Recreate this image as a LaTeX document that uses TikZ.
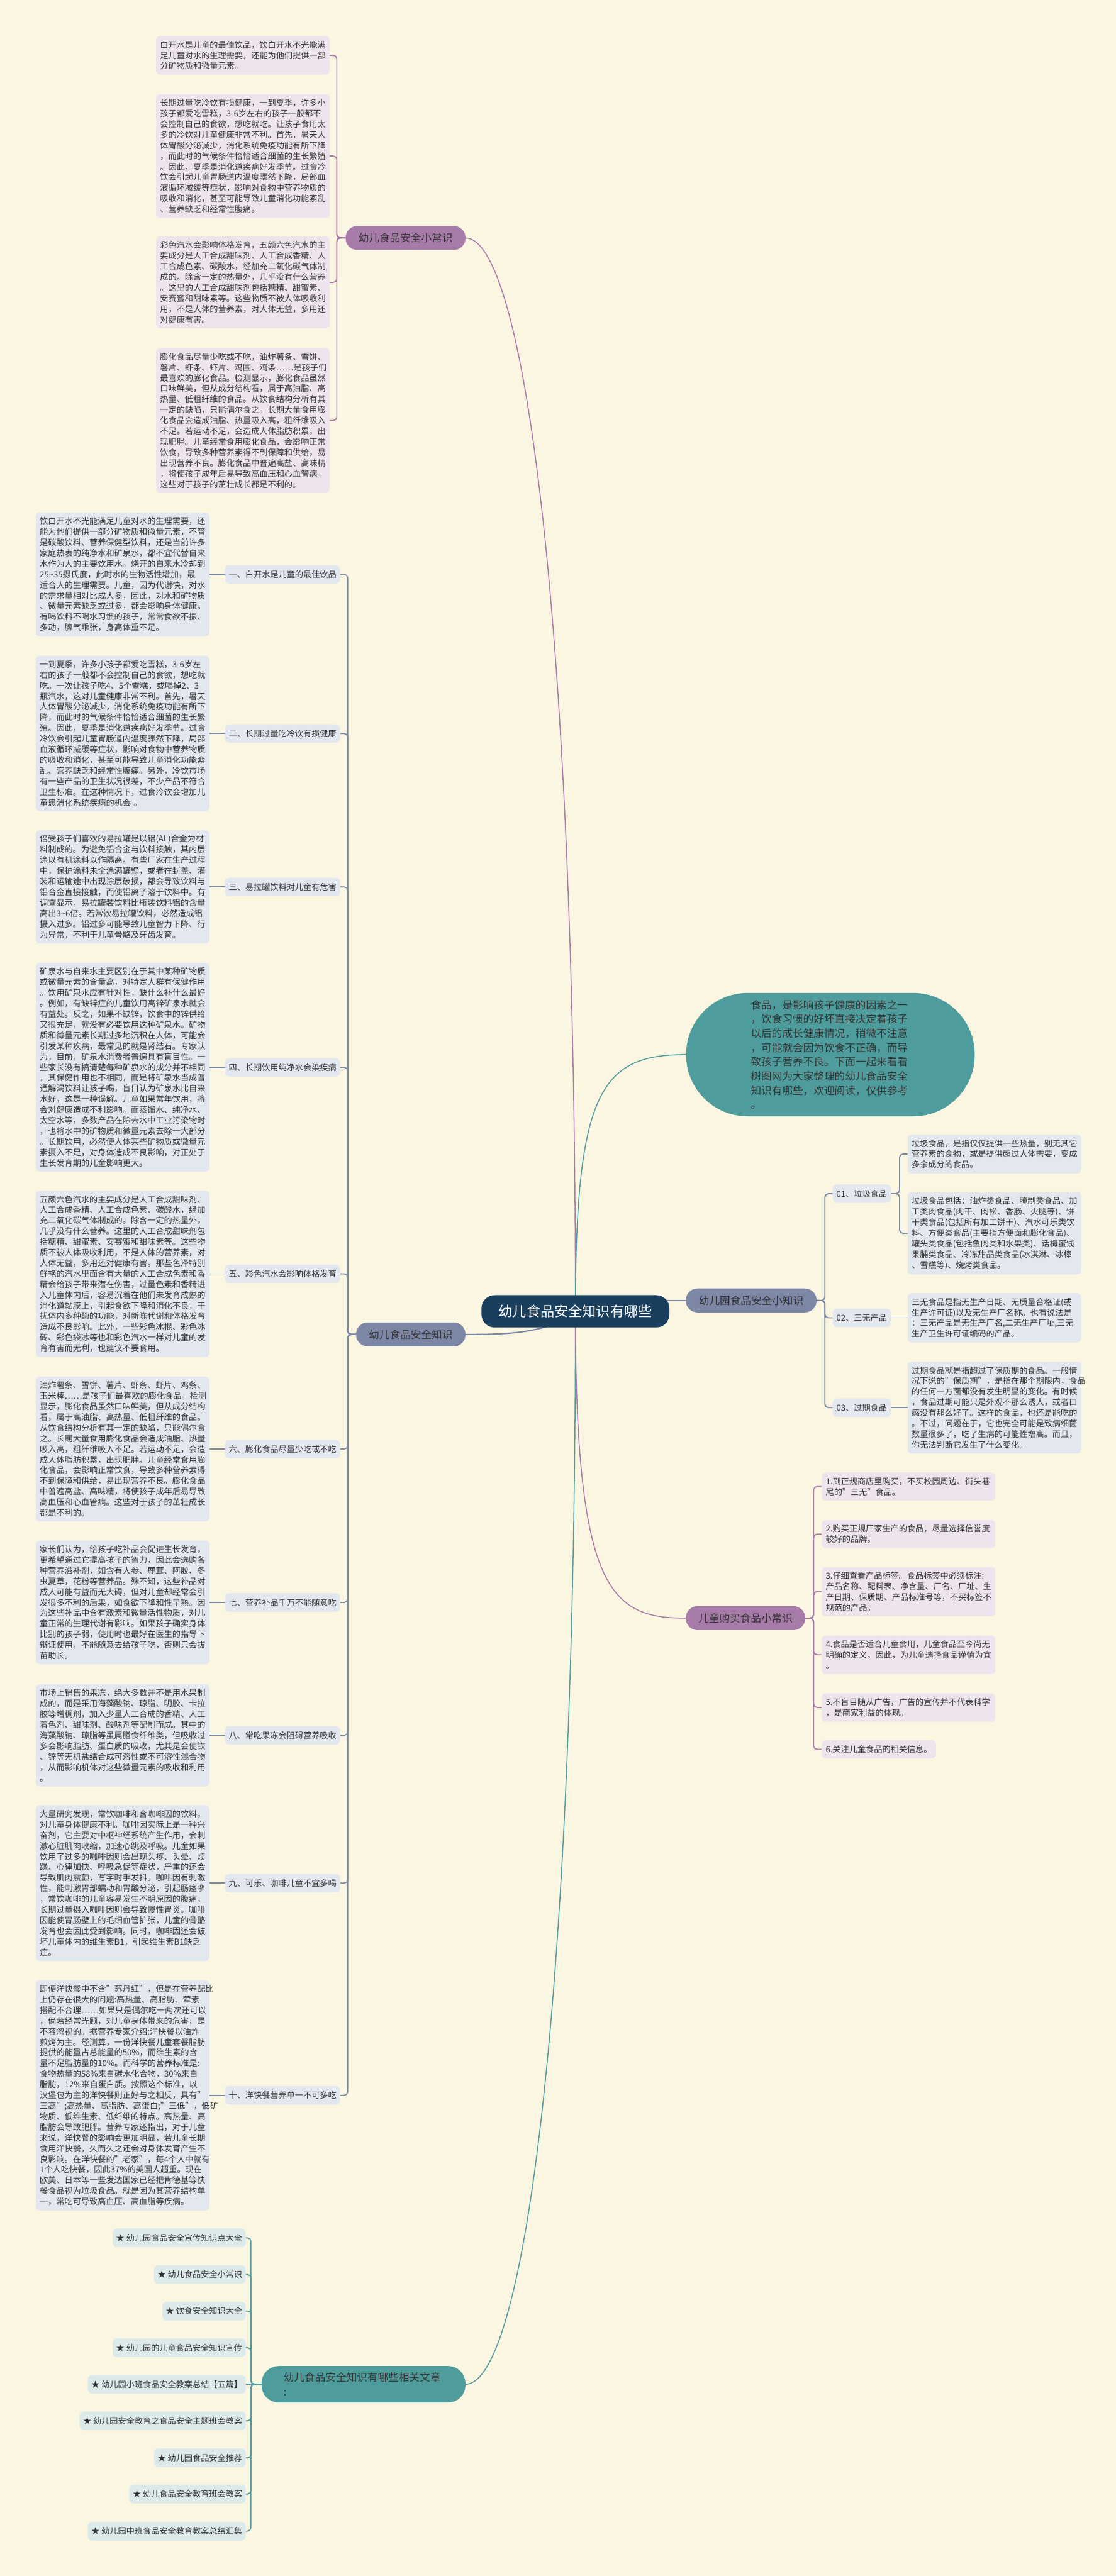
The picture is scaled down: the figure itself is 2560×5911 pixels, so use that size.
\documentclass[tikz,border=0pt]{standalone}
\usepackage{fontspec}
\setmainfont{Noto Sans CJK SC}
\pgfdeclarelayer{bglayer}
\pgfdeclarelayer{edgelayer}
\pgfsetlayers{bglayer,edgelayer,main}
\definecolor{bgc}{HTML}{FAF6E1}
\definecolor{txt}{HTML}{333333}
\definecolor{rootc}{HTML}{1A3F5E}
\definecolor{purp}{HTML}{A77BA8}
\definecolor{slate}{HTML}{7B87A5}
\definecolor{tealc}{HTML}{4E9C9B}
\definecolor{lavbox}{HTML}{EDE4EE}
\definecolor{greybox}{HTML}{E3E7EF}
\definecolor{tealbox}{HTML}{DCEBEA}
\hyphenpenalty=10000
\exhyphenpenalty=10000
\tikzset{
  tb/.style={font=\fontsize{19}{24.4}\selectfont, text=txt, rounded corners=9, inner xsep=9, inner ysep=11, align=left, text width=380},
  lb/.style={font=\fontsize{19}{24.4}\selectfont, text=txt, rounded corners=10, inner xsep=8.5, inner ysep=0, minimum height=42},
  rb/.style={font=\fontsize{19}{24.4}\selectfont, text=txt, rounded corners=10, inner xsep=8, inner ysep=0, minimum height=43, fill=tealbox, anchor=east},
  mb/.style={font=\fontsize{24}{30}\selectfont, text=txt, rounded corners=27, inner xsep=0, inner ysep=0, minimum height=55},
  rootbox/.style={font=\fontsize{32}{38}\selectfont, text=white, fill=rootc, rounded corners=30, inner sep=0, minimum width=431, minimum height=74},
  introbox/.style={font=\fontsize{24}{32.7}\selectfont, text=txt, fill=tealc, rounded corners=141, inner sep=0, minimum width=662, minimum height=283, text width=365, align=left},
  mline/.style={line width=2.2},
  sline/.style={line width=3, slate},
  subline/.style={line width=2.5, rounded corners=8},
}
\begin{document}
\begin{tikzpicture}[x=1pt,y=-1pt]
\begin{pgfonlayer}{bglayer}
\fill[bgc] (0,0) rectangle (2560,5911);
\end{pgfonlayer}
\useasboundingbox (0,0) rectangle (2560,5911);

% ---------- root and main branches ----------
\node[rootbox] (root) at (1320,3009) {幼儿食品安全知识有哪些};
\node[mb, fill=purp, minimum width=275, anchor=east] (A) at (1068,546) {幼儿食品安全小常识};
\node[mb, fill=slate, minimum width=251, anchor=east] (B) at (1068,3062) {幼儿食品安全知识};
\node[mb, fill=slate, minimum width=300, anchor=west] (C) at (1573,2984) {幼儿园食品安全小知识};
\node[mb, fill=purp, minimum width=274, anchor=west] (E) at (1573,3713) {儿童购买食品小常识};
\node[font=\fontsize{24}{33}\selectfont, text=txt, fill=tealc, rounded corners=40, text width=366, align=left, inner xsep=51, inner ysep=15, anchor=east] (D) at (1068,5471) {幼儿食品安全知识有哪些相关文章\\:};
\node[introbox] (I) at (1905,2420) {食品，是影响孩子健康的因素之一\\，饮食习惯的好坏直接决定着孩子\\以后的成长健康情况，稍微不注意\\，可能就会因为饮食不正确，而导\\致孩子营养不良。下面一起来看看\\树图网为大家整理的幼儿食品安全\\知识有哪些，欢迎阅读，仅供参考\\。};

% ---------- A: 幼儿食品安全小常识 ----------
\node[tb, fill=lavbox, anchor=west] (A1) at (358,127) {白开水是儿童的最佳饮品，饮白开水不光能满\\足儿童对水的生理需要，还能为他们提供一部\\分矿物质和微量元素。};
\node[tb, fill=lavbox, anchor=west] (A2) at (358,358) {长期过量吃冷饮有损健康，一到夏季，许多小\\孩子都爱吃雪糕，3-6岁左右的孩子一般都不\\会控制自己的食欲，想吃就吃。让孩子食用太\\多的冷饮对儿童健康非常不利。首先，暑天人\\体胃酸分泌减少，消化系统免疫功能有所下降\\，而此时的气候条件恰恰适合细菌的生长繁殖\\。因此，夏季是消化道疾病好发季节。过食冷\\饮会引起儿童胃肠道内温度骤然下降，局部血\\液循环减缓等症状，影响对食物中营养物质的\\吸收和消化，甚至可能导致儿童消化功能紊乱\\、营养缺乏和经常性腹痛。};
\node[tb, fill=lavbox, anchor=west] (A3) at (358,648) {彩色汽水会影响体格发育，五颜六色汽水的主\\要成分是人工合成甜味剂、人工合成香精、人\\工合成色素、碳酸水，经加充二氧化碳气体制\\成的。除含一定的热量外，几乎没有什么营养\\。这里的人工合成甜味剂包括糖精、甜蜜素、\\安赛蜜和甜味素等。这些物质不被人体吸收利\\用，不是人体的营养素，对人体无益，多用还\\对健康有害。};
\node[tb, fill=lavbox, anchor=west] (A4) at (358,965) {膨化食品尽量少吃或不吃，油炸薯条、雪饼、\\薯片、虾条、虾片、鸡围、鸡条……是孩子们\\最喜欢的膨化食品。检测显示，膨化食品虽然\\口味鲜美，但从成分结构看，属于高油脂、高\\热量、低粗纤维的食品。从饮食结构分析有其\\一定的缺陷，只能偶尔食之。长期大量食用膨\\化食品会造成油脂、热量吸入高，粗纤维吸入\\不足。若运动不足，会造成人体脂肪积累，出\\现肥胖。儿童经常食用膨化食品，会影响正常\\饮食，导致多种营养素得不到保障和供给，易\\出现营养不良。膨化食品中普遍高盐、高味精\\，将使孩子成年后易导致高血压和心血管病。\\这些对于孩子的茁壮成长都是不利的。};

% ---------- B: 幼儿食品安全知识 ----------
\node[lb, fill=greybox, anchor=west] (B1) at (516,1318) {一、白开水是儿童的最佳饮品};
\node[lb, fill=greybox, anchor=west] (B2) at (516,1683) {二、长期过量吃冷饮有损健康};
\node[lb, fill=greybox, anchor=west] (B3) at (516,2035) {三、易拉罐饮料对儿童有危害};
\node[lb, fill=greybox, anchor=west] (B4) at (516,2449) {四、长期饮用纯净水会染疾病};
\node[lb, fill=greybox, anchor=west] (B5) at (516,2923) {五、彩色汽水会影响体格发育};
\node[lb, fill=greybox, anchor=west] (B6) at (516,3325) {六、膨化食品尽量少吃或不吃};
\node[lb, fill=greybox, anchor=west] (B7) at (516,3677) {七、营养补品千万不能随意吃};
\node[lb, fill=greybox, anchor=west] (B8) at (516,3982) {八、常吃果冻会阻碍营养吸收};
\node[lb, fill=greybox, anchor=west] (B9) at (516,4321) {九、可乐、咖啡儿童不宜多喝};
\node[lb, fill=greybox, anchor=west] (B10) at (516,4808) {十、洋快餐营养单一不可多吃};

\node[tb, fill=greybox, anchor=west] (T1) at (82,1318) {饮白开水不光能满足儿童对水的生理需要，还\\能为他们提供一部分矿物质和微量元素，不管\\是碳酸饮料、营养保健型饮料，还是当前许多\\家庭热衷的纯净水和矿泉水，都不宜代替自来\\水作为人的主要饮用水。烧开的自来水冷却到\\25\textasciitilde 35摄氏度，此时水的生物活性增加，最\\适合人的生理需要。儿童，因为代谢快，对水\\的需求量相对比成人多，因此，对水和矿物质\\、微量元素缺乏或过多，都会影响身体健康。\\有喝饮料不喝水习惯的孩子，常常食欲不振、\\多动，脾气乖张，身高体重不足。};
\node[tb, fill=greybox, anchor=west] (T2) at (82,1683) {一到夏季，许多小孩子都爱吃雪糕，3-6岁左\\右的孩子一般都不会控制自己的食欲，想吃就\\吃。一次让孩子吃4、5个雪糕，或喝掉2、3\\瓶汽水，这对儿童健康非常不利。首先，暑天\\人体胃酸分泌减少，消化系统免疫功能有所下\\降，而此时的气候条件恰恰适合细菌的生长繁\\殖。因此，夏季是消化道疾病好发季节。过食\\冷饮会引起儿童胃肠道内温度骤然下降，局部\\血液循环减缓等症状，影响对食物中营养物质\\的吸收和消化，甚至可能导致儿童消化功能紊\\乱、营养缺乏和经常性腹痛。另外，冷饮市场\\有一些产品的卫生状况很差，不少产品不符合\\卫生标准。在这种情况下，过食冷饮会增加儿\\童患消化系统疾病的机会 。};
\node[tb, fill=greybox, anchor=west] (T3) at (82,2035) {倍受孩子们喜欢的易拉罐是以铝(AL)合金为材\\料制成的。为避免铝合金与饮料接触，其内层\\涂以有机涂料以作隔离。有些厂家在生产过程\\中，保护涂料未全涂满罐壁，或者在封盖、灌\\装和运输途中出现涂层破损，都会导致饮料与\\铝合金直接接触，而使铝离子溶于饮料中。有\\调查显示，易拉罐装饮料比瓶装饮料铝的含量\\高出3\textasciitilde 6倍。若常饮易拉罐饮料，必然造成铝\\摄入过多。铝过多可能导致儿童智力下降、行\\为异常，不利于儿童骨骼及牙齿发育。};
\node[tb, fill=greybox, anchor=west] (T4) at (82,2449) {矿泉水与自来水主要区别在于其中某种矿物质\\或微量元素的含量高，对特定人群有保健作用\\。饮用矿泉水应有针对性，缺什么补什么最好\\。例如，有缺锌症的儿童饮用高锌矿泉水就会\\有益处。反之，如果不缺锌，饮食中的锌供给\\又很充足，就没有必要饮用这种矿泉水。矿物\\质和微量元素长期过多地沉积在人体，可能会\\引发某种疾病，最常见的就是肾结石。专家认\\为，目前，矿泉水消费者普遍具有盲目性。一\\些家长没有搞清楚每种矿泉水的成分并不相同\\，其保健作用也不相同，而是将矿泉水当成普\\通解渴饮料让孩子喝，盲目认为矿泉水比自来\\水好，这是一种误解。儿童如果常年饮用，将\\会对健康造成不利影响。而蒸馏水、纯净水、\\太空水等，多数产品在除去水中工业污染物时\\，也将水中的矿物质和微量元素去除一大部分\\。长期饮用，必然使人体某些矿物质或微量元\\素摄入不足，对身体造成不良影响，对正处于\\生长发育期的儿童影响更大。};
\node[tb, fill=greybox, anchor=west] (T5) at (82,2923) {五颜六色汽水的主要成分是人工合成甜味剂、\\人工合成香精、人工合成色素、碳酸水，经加\\充二氧化碳气体制成的。除含一定的热量外，\\几乎没有什么营养。这里的人工合成甜味剂包\\括糖精、甜蜜素、安赛蜜和甜味素等。这些物\\质不被人体吸收利用，不是人体的营养素，对\\人体无益，多用还对健康有害。那些色泽特别\\鲜艳的汽水里面含有大量的人工合成色素和香\\精会给孩子带来潜在伤害，过量色素和香精进\\入儿童体内后，容易沉着在他们未发育成熟的\\消化道黏膜上，引起食欲下降和消化不良，干\\扰体内多种酶的功能，对新陈代谢和体格发育\\造成不良影响。此外，一些彩色冰棍、彩色冰\\砖、彩色袋冰等也和彩色汽水一样对儿童的发\\育有害而无利，也建议不要食用。};
\node[tb, fill=greybox, anchor=west] (T6) at (82,3325) {油炸薯条、雪饼、薯片、虾条、虾片、鸡条、\\玉米棒……是孩子们最喜欢的膨化食品。检测\\显示，膨化食品虽然口味鲜美，但从成分结构\\看，属于高油脂、高热量、低粗纤维的食品。\\从饮食结构分析有其一定的缺陷，只能偶尔食\\之。长期大量食用膨化食品会造成油脂、热量\\吸入高，粗纤维吸入不足。若运动不足，会造\\成人体脂肪积累，出现肥胖。儿童经常食用膨\\化食品，会影响正常饮食，导致多种营养素得\\不到保障和供给，易出现营养不良。膨化食品\\中普遍高盐、高味精，将使孩子成年后易导致\\高血压和心血管病。这些对于孩子的茁壮成长\\都是不利的。};
\node[tb, fill=greybox, anchor=west] (T7) at (82,3677) {家长们认为，给孩子吃补品会促进生长发育，\\更希望通过它提高孩子的智力，因此会选购各\\种营养滋补剂，如含有人参、鹿茸、阿胶、冬\\虫夏草，花粉等营养品。殊不知，这些补品对\\成人可能有益而无大碍，但对儿童却经常会引\\发很多不利的后果，如食欲下降和性早熟。因\\为这些补品中含有激素和微量活性物质，对儿\\童正常的生理代谢有影响。如果孩子确实身体\\比别的孩子弱，使用时也最好在医生的指导下\\辩证使用，不能随意去给孩子吃，否则只会拔\\苗助长。};
\node[tb, fill=greybox, anchor=west] (T8) at (82,3982) {市场上销售的果冻，绝大多数并不是用水果制\\成的，而是采用海藻酸钠、琼脂、明胶、卡拉\\胶等增稠剂，加入少量人工合成的香精、人工\\着色剂、甜味剂、酸味剂等配制而成。其中的\\海藻酸钠、琼脂等虽属膳食纤维类，但吸收过\\多会影响脂肪、蛋白质的吸收，尤其是会使铁\\、锌等无机盐结合成可溶性或不可溶性混合物\\，从而影响机体对这些微量元素的吸收和利用\\。};
\node[tb, fill=greybox, anchor=west] (T9) at (82,4321) {大量研究发现，常饮咖啡和含咖啡因的饮料，\\对儿童身体健康不利。咖啡因实际上是一种兴\\奋剂，它主要对中枢神经系统产生作用，会刺\\激心脏肌肉收缩，加速心跳及呼吸。儿童如果\\饮用了过多的咖啡因则会出现头疼、头晕、烦\\躁、心律加快、呼吸急促等症状，严重的还会\\导致肌肉震颤，写字时手发抖。咖啡因有刺激\\性，能刺激胃部蠕动和胃酸分泌，引起肠痉挛\\，常饮咖啡的儿童容易发生不明原因的腹痛，\\长期过量摄入咖啡因则会导致慢性胃炎。咖啡\\因能使胃肠壁上的毛细血管扩张，儿童的骨骼\\发育也会因此受到影响。同时，咖啡因还会破\\坏儿童体内的维生素B1，引起维生素B1缺乏\\症。};
\node[tb, fill=greybox, anchor=west] (T10) at (82,4808) {即便洋快餐中不含"苏丹红"，但是在营养配比\\上仍存在很大的问题:高热量、高脂肪、荤素\\搭配不合理……如果只是偶尔吃一两次还可以\\，倘若经常光顾，对儿童身体带来的危害，是\\不容忽视的。据营养专家介绍:洋快餐以油炸\\煎烤为主。经测算，一份洋快餐儿童套餐脂肪\\提供的能量占总能量的50\%，而维生素的含\\量不足脂肪量的10\%。而科学的营养标准是:\\食物热量的58\%来自碳水化合物，30\%来自\\脂肪，12\%来自蛋白质。按照这个标准，以\\汉堡包为主的洋快餐则正好与之相反，具有"\\三高";高热量、高脂肪、高蛋白;"三低"，低矿\\物质、低维生素、低纤维的特点。高热量、高\\脂肪会导致肥胖。营养专家还指出，对于儿童\\来说，洋快餐的影响会更加明显，若儿童长期\\食用洋快餐，久而久之还会对身体发育产生不\\良影响。在洋快餐的"老家"，每4个人中就有\\1个人吃快餐，因此37\%的美国人超重。现在\\欧美、日本等一些发达国家已经把肯德基等快\\餐食品视为垃圾食品。就是因为其营养结构单\\一，常吃可导致高血压、高血脂等疾病。};

% ---------- C: 幼儿园食品安全小知识 ----------
\node[lb, fill=greybox, anchor=west] (C1) at (1910,2739) {01、垃圾食品};
\node[lb, fill=greybox, anchor=west] (C2) at (1910,3024) {02、三无产品};
\node[lb, fill=greybox, anchor=west] (C3) at (1910,3230) {03、过期食品};
\node[tb, fill=greybox, anchor=west] (C1a) at (2082,2648) {垃圾食品，是指仅仅提供一些热量，别无其它\\营养素的食物，或是提供超过人体需要，变成\\多余成分的食品。};
\node[tb, fill=greybox, anchor=west] (C1b) at (2082,2830) {垃圾食品包括：油炸类食品、腌制类食品、加\\工类肉食品(肉干、肉松、香肠、火腿等)、饼\\干类食品(包括所有加工饼干)、汽水可乐类饮\\料、方便类食品(主要指方便面和膨化食品)、\\罐头类食品(包括鱼肉类和水果类)、话梅蜜饯\\果脯类食品、冷冻甜品类食品(冰淇淋、冰棒\\、雪糕等)、烧烤类食品。};
\node[tb, fill=greybox, anchor=west] (C2a) at (2082,3024) {三无食品是指无生产日期、无质量合格证(或\\生产许可证)以及无生产厂名称。也有说法是\\：三无产品是无生产厂名,二无生产厂址,三无\\生产卫生许可证编码的产品。};
\node[tb, fill=greybox, anchor=west] (C3a) at (2082,3230) {过期食品就是指超过了保质期的食品。一般情\\况下说的"保质期"，是指在那个期限内，食品\\的任何一方面都没有发生明显的变化。有时候\\，食品过期可能只是外观不那么诱人，或者口\\感没有那么好了。这样的食品，也还是能吃的\\。不过，问题在于，它也完全可能是致病细菌\\数量很多了，吃了生病的可能性增高。而且，\\你无法判断它发生了什么变化。};

% ---------- E: 儿童购买食品小常识 ----------
\node[tb, fill=lavbox, anchor=west] (E1) at (1885,3411) {1.到正规商店里购买，不买校园周边、街头巷\\尾的"三无"食品。};
\node[tb, fill=lavbox, anchor=west] (E2) at (1885,3520) {2.购买正规厂家生产的食品，尽量选择信誉度\\较好的品牌。};
\node[tb, fill=lavbox, anchor=west] (E3) at (1885,3652) {3.仔细查看产品标签。食品标签中必须标注:\\产品名称、配料表、净含量、厂名、厂址、生\\产日期、保质期、产品标准号等，不买标签不\\规范的产品。};
\node[tb, fill=lavbox, anchor=west] (E4) at (1885,3797) {4.食品是否适合儿童食用，儿童食品至今尚无\\明确的定义，因此，为儿童选择食品谨慎为宜\\。};
\node[tb, fill=lavbox, anchor=west] (E5) at (1885,3918) {5.不盲目随从广告，广告的宣传并不代表科学\\，是商家利益的体现。};
\node[lb, fill=lavbox, inner xsep=9, anchor=west] (E6) at (1885,4014) {6.关注儿童食品的相关信息。};

% ---------- D: related articles ----------
\node[rb] (D1) at (564,5135) {★ 幼儿园食品安全宣传知识点大全};
\node[rb] (D2) at (564,5219) {★ 幼儿食品安全小常识};
\node[rb] (D3) at (564,5303) {★ 饮食安全知识大全};
\node[rb] (D4) at (564,5387) {★ 幼儿园的儿童食品安全知识宣传};
\node[rb] (D5) at (564,5471) {★ 幼儿园小班食品安全教案总结【五篇】};
\node[rb] (D6) at (564,5555) {★ 幼儿园安全教育之食品安全主题班会教案};
\node[rb] (D7) at (564,5640) {★ 幼儿园食品安全推荐};
\node[rb] (D8) at (564,5723) {★ 幼儿食品安全教育班会教案};
\node[rb] (D9) at (564,5808) {★ 幼儿园中班食品安全教育教案总结汇集};

% ---------- connectors ----------
\begin{pgfonlayer}{edgelayer}
\draw[mline, purp] (root.center) .. controls (1320,1400) and (1200,546) .. (A.east);
\draw[mline, tealc] (root.center) .. controls (1320,4620) and (1200,5471) .. (D.east);
\draw[mline, tealc] (root.center) .. controls (1320,2500) and (1380,2420) .. (I.west);
\draw[mline, purp] (root.center) .. controls (1320,3650) and (1400,3713) .. (E.west);
\draw[sline] (root.center |- C.west) -- (C.west);
\draw[sline] (root.center) .. controls (1260,3062) and (1150,3062) .. (B.east);

\foreach \k in {A1,A2,A3,A4}
  \draw[subline, purp] (A.west) -- ++(-20,0) |- (\k.east);
\foreach \k in {B1,B2,B3,B4,B5,B6,B7,B8,B9,B10}
  \draw[subline, slate] (B.west) -- ++(-19,0) |- (\k.east);
\foreach \k/\t in {B1/T1,B2/T2,B3/T3,B4/T4,B5/T5,B6/T6,B7/T7,B8/T8,B9/T9,B10/T10}
  \draw[subline, slate] (\k.west) -- (\t.east);
\foreach \k in {C1,C2,C3}
  \draw[subline, slate] (C.east) -- ++(19,0) |- (\k.west);
\foreach \k in {C1a,C1b}
  \draw[subline, slate] (C1.east) -- ++(20,0) |- (\k.west);
\draw[subline, slate] (C2.east) -- (C2a.west);
\draw[subline, slate] (C3.east) -- (C3a.west);
\foreach \k in {E1,E2,E3,E4,E5,E6}
  \draw[subline, purp] (E.east) -- ++(19,0) |- (\k.west);
\foreach \k in {D1,D2,D3,D4,D6,D7,D8,D9}
  \draw[subline, tealc] (D.west) -- ++(-24,0) |- (\k.east);
\draw[subline, tealc] (D.west) -- (D5.east);
\end{pgfonlayer}
\end{tikzpicture}
\end{document}
